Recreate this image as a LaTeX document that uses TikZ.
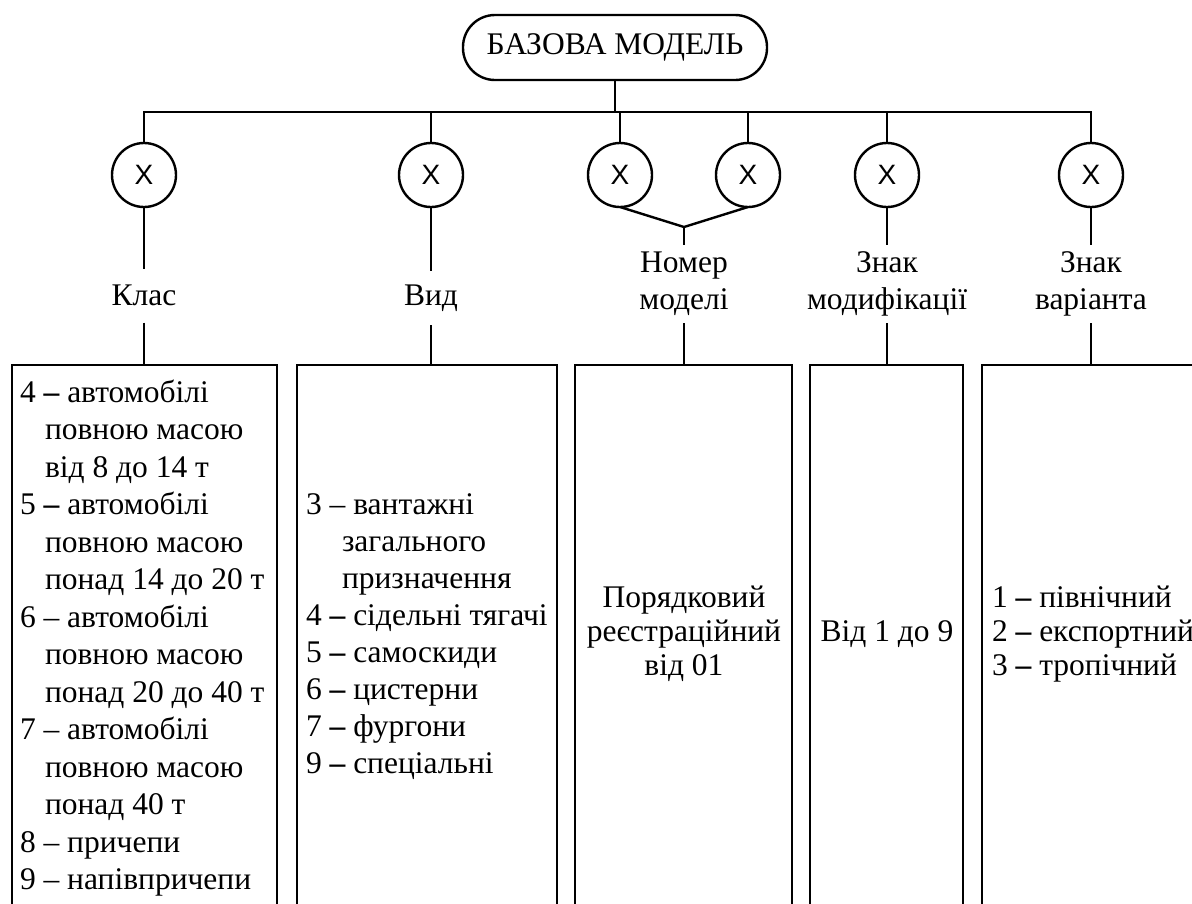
\documentclass[tikz,border=0pt]{standalone}
\usepackage{fontspec}
\setmainfont{Liberation Serif}
\newfontfamily\xsans{Liberation Sans}
\begin{document}
\begin{tikzpicture}[x=1pt,y=-1pt, line width=2.4pt,
  every node/.style={inner sep=0pt, outer sep=0pt},
  xcirc/.style={draw, circle, minimum size=64pt, font=\xsans\fontsize{28}{32}\selectfont},
  lbl/.style={align=center, font=\fontsize{31.5}{37}\selectfont},
  lbl1/.style={lbl, minimum height=54pt},
  lbl2/.style={lbl, minimum height=78pt},
  frame/.style={draw, rectangle, anchor=north west, minimum height=600pt},
  txt/.style={font=\fontsize{31.5}{37.5}\selectfont, anchor=base west},
  txtb/.style={font=\fontsize{31.5}{37}\selectfont, anchor=base west},
  txts/.style={font=\fontsize{31.5}{34}\selectfont, anchor=base west},
  ctxt/.style={font=\fontsize{31.5}{34}\selectfont, anchor=base}
]
\useasboundingbox (0,0) rectangle (1192,903);
\clip (0,0) rectangle (1192,903);

% top node
\node[draw, rounded corners=32pt, minimum width=304pt, minimum height=65pt,
      font=\fontsize{31.5}{37}\selectfont] (top) at (615,47.5) {БАЗОВА МОДЕЛЬ};

\coordinate (barL) at (144,112);

% circles
\node[xcirc] (c1) at (144,175) {X};
\node[xcirc] (c2) at (431,175) {X};
\node[xcirc] (c3) at (620,175) {X};
\node[xcirc] (c4) at (748,175) {X};
\node[xcirc] (c5) at (887,175) {X};
\node[xcirc] (c6) at (1091,175) {X};

\coordinate (J) at (684,227);

% labels
\node[lbl1] (l1) at (144,295.5) {Клас};
\node[lbl1] (l2) at (431,298) {Вид};
\node[lbl2] (l3) at (684,284) {Номер\\моделі};
\node[lbl2] (l4) at (887,284) {Знак\\модифікації};
\node[lbl2] (l5) at (1091,284) {Знак\\варіанта};

% boxes
\node[frame, minimum width=265pt] (b1) at (12,365) {};
\node[frame, minimum width=260pt] (b2) at (297,365) {};
\node[frame, minimum width=217pt] (b3) at (575,365) {};
\node[frame, minimum width=153pt] (b4) at (810,365) {};
\node[frame, minimum width=320pt] (b5) at (982,365) {};

% box texts
\node[txt] (t1) at (20,402) {\parbox[t]{262pt}{\raggedright
4 \textbf{–} автомобілі\\
\hspace*{25pt}повною масою\\
\hspace*{25pt}від 8 до 14 т\\
5 \textbf{–} автомобілі\\
\hspace*{25pt}повною масою\\
\hspace*{25pt}понад 14 до 20 т\\
6 – автомобілі\\
\hspace*{25pt}повною масою\\
\hspace*{25pt}понад 20 до 40 т\\
7 – автомобілі\\
\hspace*{25pt}повною масою\\
\hspace*{25pt}понад 40 т\\
8 – причепи\\
9 – напівпричепи}};

\node[txtb] (t2) at (306,514) {\parbox[t]{255pt}{\raggedright
3 – вантажні\\
\hspace*{36pt}загального\\
\hspace*{36pt}призначення\\
4 \textbf{–} сідельні тягачі\\
5 \textbf{–} самоскиди\\
6 \textbf{–} цистерни\\
7 \textbf{–} фургони\\
9 \textbf{–} спеціальні}};

\node[ctxt] (t3) at (684,607) {\parbox[t]{215pt}{\centering
Порядковий\\реєстраційний\\від 01}};

\node[ctxt] (t4) at (887,641) {Від 1 до 9};

\node[txts] (t5) at (992,607) {\parbox[t]{240pt}{\raggedright
1 \textbf{–} північний\\
2 \textbf{–} експортний\\
3 \textbf{–} тропічний}};

% connectors
\draw (top.south) -- (top.south |- barL);
\draw (c1.north) |- (c6.north |- barL) -- (c6.north);
\foreach \c in {c2,c3,c4,c5} \draw (\c.north) -- (\c.north |- barL);

\draw (c1.south) -- (l1.north);
\draw (c2.south) -- (l2.north);
\draw (c3.south) -- (J) -- (c4.south);
\draw (J) -- (l3.north);
\draw (c5.south) -- (l4.north);
\draw (c6.south) -- (l5.north);

\draw (l1.south) -- (l1.south |- b1.north);
\draw (l2.south) -- (l2.south |- b2.north);
\draw (l3.south) -- (l3.south |- b3.north);
\draw (l4.south) -- (l4.south |- b4.north);
\draw (l5.south) -- (l5.south |- b5.north);
\end{tikzpicture}
\end{document}
